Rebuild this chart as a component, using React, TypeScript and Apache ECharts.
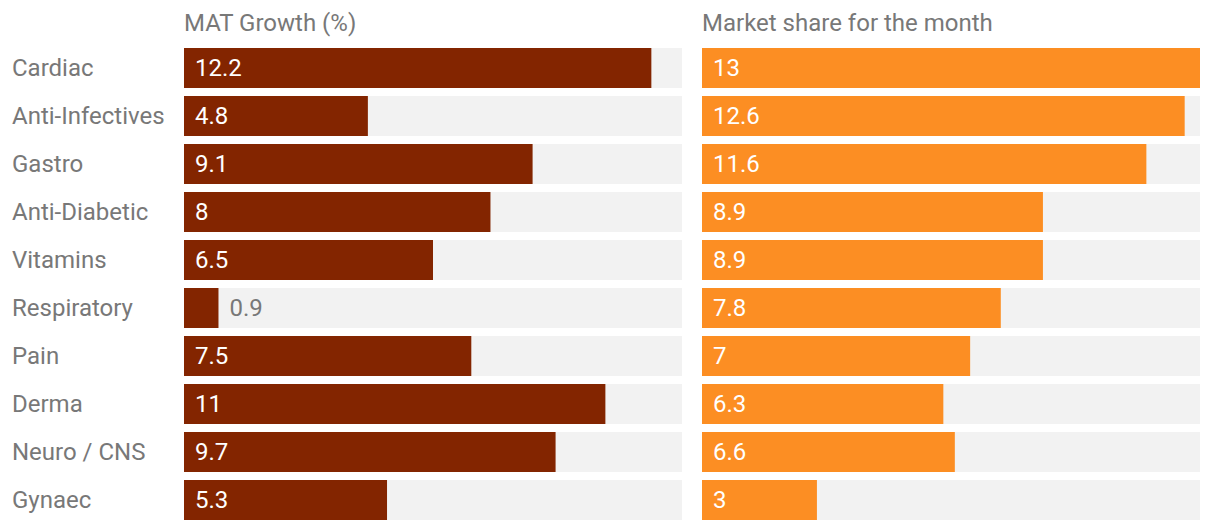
import React, { useEffect, useRef } from "react";
import * as echarts from "echarts";

const categories = ["Cardiac", "Anti-Infectives", "Gastro", "Anti-Diabetic", "Vitamins", "Respiratory", "Pain", "Derma", "Neuro / CNS", "Gynaec"];
const matGrowth = [12.2, 4.8, 9.1, 8, 6.5, 0.9, 7.5, 11, 9.7, 5.3];
const marketShare = [13, 12.6, 11.6, 8.9, 8.9, 7.8, 7, 6.3, 6.6, 3];
const columnTitles = ["MAT Growth (%)", "Market share for the month"];
const scaleMax = 13;

const FONT = "Roboto, 'Noto Sans', sans-serif";
const GRAY = "#787878";

function toData(values: number[]) {
  return values.map((v) =>
    v < 2
      ? { value: v, label: { position: "right", distance: 11, color: GRAY } }
      : { value: v }
  );
}

export default function App() {
  const ref = useRef<HTMLDivElement>(null);
  useEffect(() => {
    if (!ref.current) return;
    const chart = echarts.init(ref.current, null, { renderer: "svg" });
    const grids = [
      { left: 184, top: 44, width: 498, height: 480 },
      { left: 702, top: 44, width: 498, height: 480 },
    ];
    const label = {
      show: true,
      position: "insideLeft",
      distance: 11,
      color: "#ffffff",
      fontSize: 24,
      fontFamily: FONT,
    };
    chart.setOption({
      animation: false,
      backgroundColor: "#ffffff",
      grid: grids,
      xAxis: grids.map((_, i) => ({
        type: "value",
        gridIndex: i,
        min: 0,
        max: scaleMax,
        show: false,
      })),
      yAxis: grids.map((_, i) => ({
        type: "category",
        gridIndex: i,
        data: categories,
        inverse: true,
        axisLine: { show: false },
        axisTick: { show: false },
        splitLine: { show: false },
        axisLabel: {
          show: i === 0,
          align: "left",
          margin: 172,
          color: GRAY,
          fontSize: 24,
          fontFamily: FONT,
        },
      })),
      series: [
        {
          type: "bar",
          xAxisIndex: 0,
          yAxisIndex: 0,
          data: toData(matGrowth),
          barWidth: 40,
          itemStyle: { color: "#832500" },
          showBackground: true,
          backgroundStyle: { color: "#f2f2f2" },
          label,
        },
        {
          type: "bar",
          xAxisIndex: 1,
          yAxisIndex: 1,
          data: toData(marketShare),
          barWidth: 40,
          itemStyle: { color: "#fc8e23" },
          showBackground: true,
          backgroundStyle: { color: "#f2f2f2" },
          label,
        },
      ],
      graphic: columnTitles.map((t, i) => ({
        type: "text",
        left: grids[i].left,
        top: 11,
        style: { text: t, fill: GRAY, fontSize: 24, fontFamily: FONT },
      })),
    });
    return () => chart.dispose();
  }, []);
  return (
    <div
      ref={ref}
      style={{ position: "fixed", left: 0, top: 0, width: 1220, height: 530 }}
    />
  );
}
